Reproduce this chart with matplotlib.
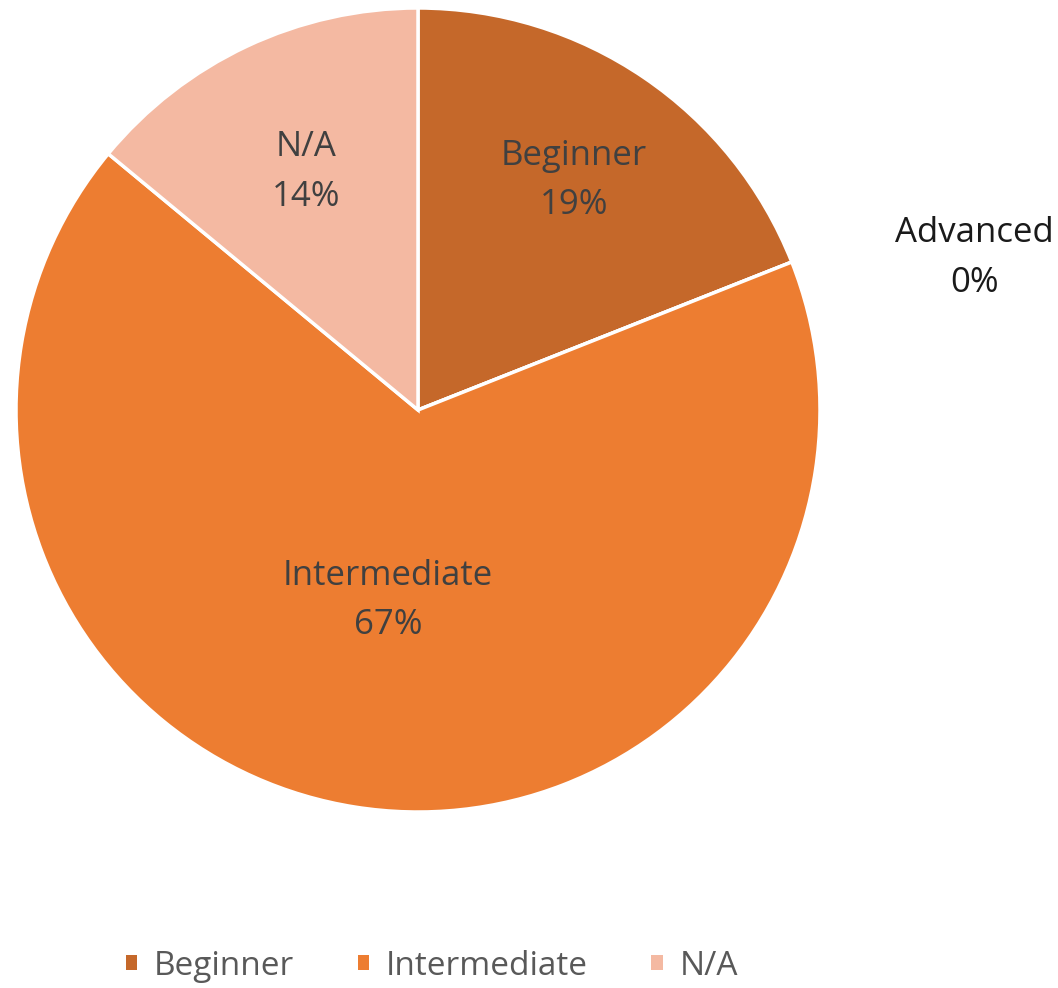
import numpy as np
import matplotlib.pyplot as plt
from matplotlib.patches import Patch

labels = ['Beginner', 'Advanced', 'Intermediate', 'N/A']
values = [19, 0, 67, 14]
colors = ['#C5682A', '#A5A5A5', '#ED7D31', '#F4B9A2']
legend_labels = ['Beginner', 'Intermediate', 'N/A']

plt.rcParams['font.family'] = ['Open Sans', 'DejaVu Sans']

fig = plt.figure(figsize=(10.58, 9.88), dpi=100)
ax = fig.add_axes([16 / 1058, 176 / 988, 804 / 1058, 804 / 988])

wedges, _ = ax.pie(values, colors=colors, startangle=90, counterclock=False,
                   radius=1, wedgeprops=dict(edgecolor='white', linewidth=2.5))
ax.set_xlim(-1, 1)
ax.set_ylim(-1, 1)
ax.set_aspect('equal')
ax.axis('off')

# label distance per slice (Advanced sits outside the pie)
dist = {'Beginner': 0.69, 'Intermediate': 0.48, 'N/A': 0.655}
for w, lab, v in zip(wedges, labels, values):
    mid = np.deg2rad((w.theta1 + w.theta2) / 2)
    if lab == 'Advanced':
        x, y = 1.385, 0.378
        col = '#1a1a1a'
    else:
        x, y = dist[lab] * np.cos(mid), dist[lab] * np.sin(mid)
        col = '#404040'
    ax.text(x, y, f'{lab}\n{v}%', ha='center', va='center', fontsize=25,
            color=col, linespacing=1.6)

handles = [Patch(facecolor=colors[labels.index(l)]) for l in legend_labels]
fig.legend(handles, legend_labels, loc='center', bbox_to_anchor=(432 / 1058, 1 - 966 / 988),
           ncol=3, frameon=False, fontsize=24, handlelength=0.35, handleheight=0.35,
           handletextpad=0.5, columnspacing=1.9, labelcolor='#595959')

fig.savefig('out.png', dpi=100)
